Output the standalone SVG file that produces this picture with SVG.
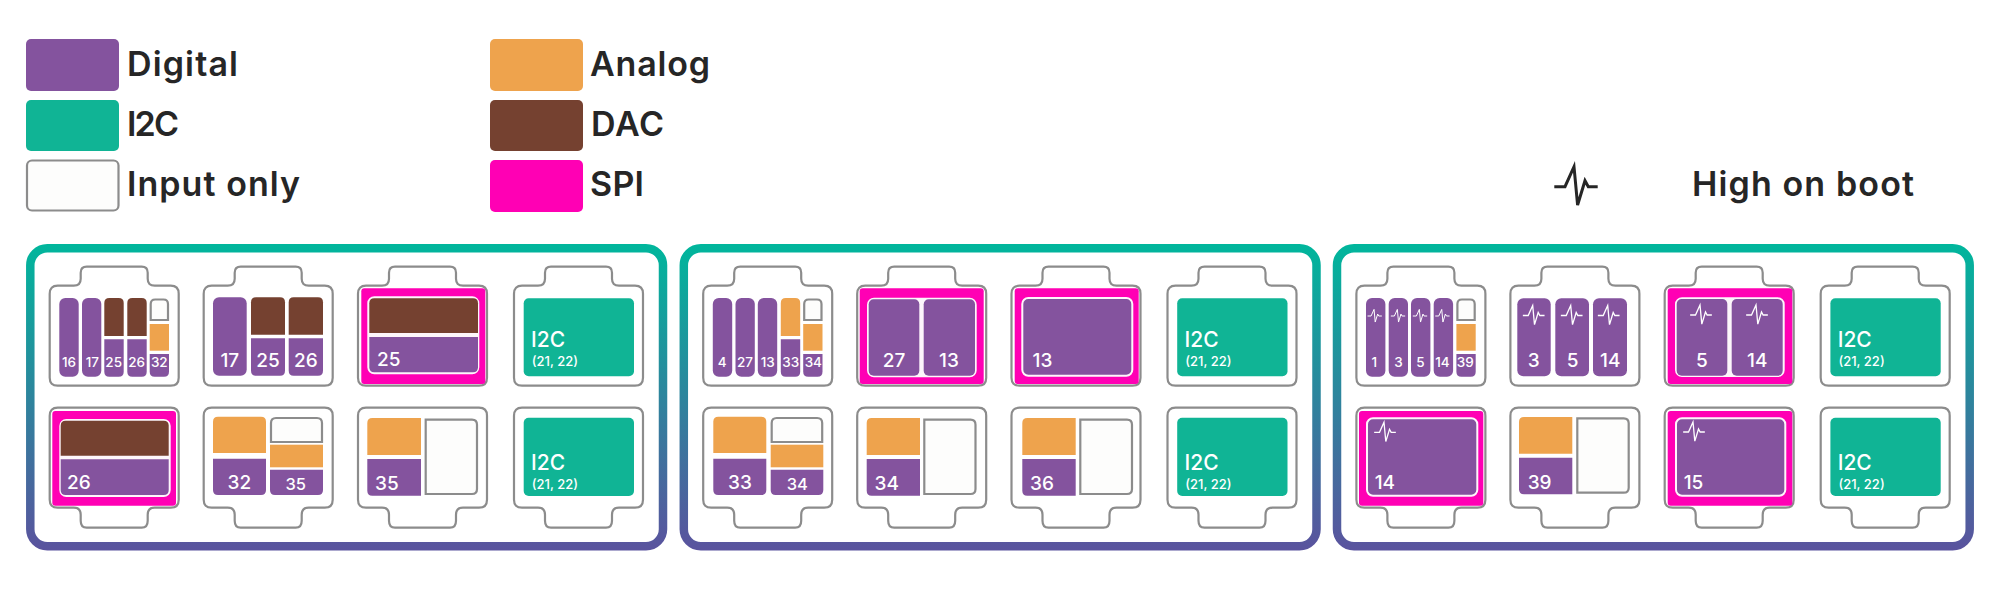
<svg xmlns="http://www.w3.org/2000/svg" width="2000" height="589" viewBox="0 0 2000 589">
<style>
text{font-family:Inter,"Liberation Sans",sans-serif}
.l{font-size:34px;font-weight:600;fill:#262626}
.n{font-weight:500;fill:#fff;text-anchor:middle}
.a{font-weight:500;fill:#fff}
.s{font-size:13.5px}.m{font-size:16.5px}.g{font-size:19px}
.i{font-size:21px}.j{font-size:13px}
.P{fill:#84539e}.T{fill:#10b495}.O{fill:#eea34d}.B{fill:#754130}.M{fill:#ff00b4}
.W{fill:#fdfdfc;stroke:#8c8c8c;stroke-width:2.2}
.H{fill:#fdf6fb;stroke:#fdf6fb;stroke-width:2}
.o{fill:#fff;stroke:#8c8c8c;stroke-width:2.2}
.panel{fill:#fff;stroke:url(#grad);stroke-width:8.5}
.pw{fill:none;stroke:#fff;stroke-width:2.6;stroke-linejoin:miter}
.ps{fill:none;stroke:#fff;stroke-width:3;stroke-linejoin:miter}
.pk{fill:none;stroke:#262626;stroke-width:3;stroke-linejoin:miter}
</style>
<defs>
<linearGradient id="grad" gradientUnits="userSpaceOnUse" x1="0" y1="244" x2="0" y2="550"><stop offset="0" stop-color="#00b69c"/><stop offset="1" stop-color="#5a539e"/></linearGradient>
<path id="tileT" d="M8 0H24Q31 0 31-7V-13Q31-19 37-19H92Q98-19 98-13V-7Q98 0 105 0H121Q129 0 129 8V92Q129 100 121 100H8Q0 100 0 92V8Q0 0 8 0Z"/>
<path id="tileB" d="M8 0H121Q129 0 129 8V92Q129 100 121 100H105Q98 100 98 107V113Q98 120 92 120H37Q31 120 31 113V107Q31 100 24 100H8Q0 100 0 92V8Q0 0 8 0Z"/>
<path id="pulse" d="M-21.7 0H-11L-2-20L1.6 18.3L9-6L12.3 0H21.7"/>
<g id="small"><path class="W" d="M150.700 320V304q0-4.500 4.500-4.500H163.500q4.500 0 4.500 4.500V320Z"/><rect class="O" x="149.700" y="324" width="19.300" height="26.700"/><path class="P" d="M149.700 354H169V371.700q0 5-5 5H154.700q-5 0-5-5Z"/></g>
</defs>

<g id="legend">
<g id="legend-digital"><rect class="P" x="26" y="39" width="93" height="52" rx="5"/><text class="l" x="127" y="76" textLength="111">Digital</text></g>
<g id="legend-i2c"><rect class="T" x="26" y="100" width="93" height="51" rx="5"/><text class="l" x="127" y="136" textLength="52">I2C</text></g>
<g id="legend-input"><rect class="W" x="27" y="160.500" width="91.500" height="50" rx="5"/><text class="l" x="127" y="196" textLength="173">Input only</text></g>
<g id="legend-analog"><rect class="O" x="490" y="39" width="93" height="52" rx="5"/><text class="l" x="590" y="76" textLength="120">Analog</text></g>
<g id="legend-dac"><rect class="B" x="490" y="100" width="93" height="51" rx="5"/><text class="l" x="591" y="136" textLength="73">DAC</text></g>
<g id="legend-spi"><rect class="M" x="490" y="160" width="93" height="52" rx="5"/><text class="l" x="590" y="196" textLength="54">SPI</text></g>
<g id="legend-boot"><use href="#pulse" class="pk" transform="translate(1576 186.700)"/><text class="l" x="1692" y="196" textLength="222">High on boot</text></g>
</g>

<g id="panel-1">
<rect class="panel" x="30.300" y="248.200" width="632.700" height="298" rx="17"/>
<g id="p1-r1-c1"><use href="#tileT" class="o" x="49.700" y="285.700"/>
<rect class="P" x="59.300" y="298" width="19.400" height="78.700" rx="6"/><rect class="P" x="82" y="298" width="19.300" height="78.700" rx="6"/>
<path class="B" d="M104.300 336V303q0-5 5-5H118.700q5 0 5 5V336Z"/><path class="P" d="M104.300 339.300H123.700V371.700q0 5-5 5H109.300q-5 0-5-5Z"/>
<path class="B" d="M127.300 336V303q0-5 5-5H141.700q5 0 5 5V336Z"/><path class="P" d="M127.300 339.300H146.700V371.700q0 5-5 5H132.300q-5 0-5-5Z"/>
<use href="#small"/>
<text class="n s" x="69" y="366.700">16</text><text class="n s" x="92.300" y="366.700">17</text><text class="n s" x="113.700" y="366.700">25</text><text class="n s" x="136.700" y="366.700">26</text><text class="n s" x="159.300" y="366.700">32</text></g>
<g id="p1-r1-c2"><use href="#tileT" class="o" x="203.700" y="285.700"/>
<rect class="P" x="213" y="297.300" width="33.700" height="78.400" rx="6"/>
<path class="B" d="M251 334.700V302.300q0-5 5-5H280q5 0 5 5V334.700Z"/><path class="P" d="M251 338.300H285V370.700q0 5-5 5H256q-5 0-5-5Z"/>
<path class="B" d="M288.700 334.700V302.300q0-5 5-5H318q5 0 5 5V334.700Z"/><path class="P" d="M288.700 338.300H323V370.700q0 5-5 5H293.700q-5 0-5-5Z"/>
<text class="n g" x="229.800" y="366.700">17</text><text class="n g" x="268" y="366.700">25</text><text class="n g" x="305.800" y="366.700">26</text></g>
<g id="p1-r1-c3"><use href="#tileT" class="o" x="358" y="285.700"/><rect class="M" x="361.300" y="288.300" width="124" height="95.700" rx="3"/>
<rect class="H" x="368.300" y="297.300" width="110" height="76" rx="6"/>
<path class="B" d="M369.300 333V303.300q0-5 5-5H473q5 0 5 5V333Z"/><path class="P" d="M369.300 337H478V367.300q0 5-5 5H374.300q-5 0-5-5Z"/>
<text class="a g" x="377" y="365.700">25</text></g>
<g id="p1-r1-c4"><use href="#tileT" class="o" x="514" y="285.700"/><rect class="T" x="523.700" y="298.300" width="110.300" height="78" rx="5"/><text class="a i" x="531" y="347.300">I2C</text><text class="a j" x="531.700" y="366">(21, 22)</text></g>
<g id="p1-r2-c1"><use href="#tileB" class="o" x="49.700" y="407.700"/><rect class="M" x="52.300" y="411" width="123.700" height="94.700" rx="3"/>
<rect class="H" x="60.300" y="420" width="109.400" height="76" rx="6"/>
<path class="B" d="M60.700 455.700V425.700q0-5 5-5H163.700q5 0 5 5V455.700Z"/><path class="P" d="M60.700 459.300H168.700V490q0 5-5 5H65.700q-5 0-5-5Z"/>
<text class="a g" x="67" y="489">26</text></g>
<g id="p1-r2-c2"><use href="#tileB" class="o" x="203.700" y="407.700"/>
<path class="O" d="M213 453V421.700q0-5 5-5H261q5 0 5 5V453Z"/><path class="P" d="M213 458.700H266V490q0 5-5 5H218q-5 0-5-5Z"/>
<path class="W" d="M271 442V423q0-5 5-5H317q5 0 5 5V442Z"/><rect class="O" x="270" y="444.700" width="53" height="22.600"/><path class="P" d="M270 469.700H323V490q0 5-5 5H275q-5 0-5-5Z"/>
<text class="n g" x="239.300" y="489">32</text><text class="n m" x="295.700" y="490">35</text></g>
<g id="p1-r2-c3"><use href="#tileB" class="o" x="358" y="407.700"/>
<path class="O" d="M367.300 455V423q0-5 5-5H421V455Z"/><path class="P" d="M367.300 459H421V495.700H372.300q-5 0-5-5Z"/>
<path class="W" d="M425.700 419.700H472q5 0 5 5V489q0 5-5 5H425.700Z"/>
<text class="a g" x="375" y="489.700">35</text></g>
<g id="p1-r2-c4"><use href="#tileB" class="o" x="514" y="407.700"/><rect class="T" x="523.700" y="417.700" width="110.300" height="78.300" rx="5"/><text class="a i" x="531" y="469.700">I2C</text><text class="a j" x="531.700" y="488.700">(21, 22)</text></g>
</g>

<g id="panel-2" transform="translate(653.500 0)">
<rect class="panel" x="30.300" y="248.200" width="632.700" height="298" rx="17"/>
<g id="p2-r1-c1"><use href="#tileT" class="o" x="49.700" y="285.700"/>
<rect class="P" x="59.300" y="298" width="19.400" height="78.700" rx="6"/><rect class="P" x="82" y="298" width="19.300" height="78.700" rx="6"/><rect class="P" x="104.300" y="298" width="19.400" height="78.700" rx="6"/>
<path class="O" d="M127.300 336V303q0-5 5-5H141.700q5 0 5 5V336Z"/><path class="P" d="M127.300 339.300H146.700V371.700q0 5-5 5H132.300q-5 0-5-5Z"/>
<use href="#small"/>
<text class="n s" x="68.800" y="366.700">4</text><text class="n s" x="91.500" y="366.700">27</text><text class="n s" x="114.200" y="366.700">13</text><text class="n s" x="137.200" y="366.700">33</text><text class="n s" x="159.800" y="366.700">34</text></g>
<g id="p2-r1-c2"><use href="#tileT" class="o" x="203.700" y="285.700"/><rect class="M" x="206.200" y="288.300" width="124" height="95.700" rx="3"/>
<rect class="H" x="214.500" y="298.700" width="107.700" height="77.600" rx="6"/>
<rect class="P" x="215.200" y="299.300" width="50.600" height="76.400" rx="5"/><rect class="P" x="270.200" y="299.300" width="51.300" height="76.400" rx="5"/>
<text class="n g" x="240.500" y="367">27</text><text class="n g" x="295.500" y="367">13</text></g>
<g id="p2-r1-c3"><use href="#tileT" class="o" x="358" y="285.700"/><rect class="M" x="361.200" y="288.300" width="124" height="95.700" rx="3"/>
<rect class="P" x="368.800" y="298" width="110" height="77.700" rx="6" stroke="#fdf6fb" stroke-width="2"/>
<text class="a g" x="379" y="367">13</text></g>
<g id="p2-r1-c4"><use href="#tileT" class="o" x="514" y="285.700"/><rect class="T" x="523.700" y="298.300" width="110.300" height="78" rx="5"/><text class="a i" x="531" y="347.300">I2C</text><text class="a j" x="531.700" y="366">(21, 22)</text></g>
<g id="p2-r2-c1"><use href="#tileB" class="o" x="49.700" y="407.700"/>
<path class="O" d="M59.800 453V421.700q0-5 5-5H107.800q5 0 5 5V453Z"/><path class="P" d="M59.800 458.700H112.800V490q0 5-5 5H64.800q-5 0-5-5Z"/>
<path class="W" d="M118.200 442V423q0-5 5-5H163.700q5 0 5 5V442Z"/><rect class="O" x="117.200" y="444.700" width="52.600" height="22.600"/><path class="P" d="M117.200 469.700H169.800V490q0 5-5 5H122.200q-5 0-5-5Z"/>
<text class="n g" x="86.500" y="489">33</text><text class="n m" x="143.800" y="490">34</text></g>
<g id="p2-r2-c2"><use href="#tileB" class="o" x="203.700" y="407.700"/>
<path class="O" d="M213.200 455V423q0-5 5-5H266.500V455Z"/><path class="P" d="M213.200 459H266.500V495.700H218.200q-5 0-5-5Z"/>
<path class="W" d="M270.800 419.700H317q5 0 5 5V489q0 5-5 5H270.800Z"/>
<text class="a g" x="221" y="489.700">34</text></g>
<g id="p2-r2-c3"><use href="#tileB" class="o" x="358" y="407.700"/>
<path class="O" d="M368.800 455V423q0-5 5-5H422.200V455Z"/><path class="P" d="M368.800 459H422.200V495.700H373.800q-5 0-5-5Z"/>
<path class="W" d="M426.800 419.700H473.500q5 0 5 5V489q0 5-5 5H426.800Z"/>
<text class="a g" x="376.500" y="489.700">36</text></g>
<g id="p2-r2-c4"><use href="#tileB" class="o" x="514" y="407.700"/><rect class="T" x="523.700" y="417.700" width="110.300" height="78.300" rx="5"/><text class="a i" x="531" y="469.700">I2C</text><text class="a j" x="531.700" y="488.700">(21, 22)</text></g>
</g>

<g id="panel-3" transform="translate(1306.700 0)">
<rect class="panel" x="30.300" y="248.200" width="632.700" height="298" rx="17"/>
<g id="p3-r1-c1"><use href="#tileT" class="o" x="49.700" y="285.700"/>
<rect class="P" x="59.300" y="298" width="19.400" height="78.700" rx="6"/><rect class="P" x="82" y="298" width="19.300" height="78.700" rx="6"/><rect class="P" x="104.300" y="298" width="19.400" height="78.700" rx="6"/><rect class="P" x="127" y="298" width="19.400" height="78.700" rx="6"/>
<use href="#small"/>
<use href="#pulse" class="ps" transform="translate(68 316) scale(.33)"/><use href="#pulse" class="ps" transform="translate(91.300 316) scale(.33)"/><use href="#pulse" class="ps" transform="translate(113.300 316) scale(.33)"/><use href="#pulse" class="ps" transform="translate(135.700 316) scale(.33)"/>
<text class="n s" x="67.700" y="366.700">1</text><text class="n s" x="91.700" y="366.700">3</text><text class="n s" x="113.700" y="366.700">5</text><text class="n s" x="135.700" y="366.700">14</text><text class="n s" x="158.500" y="366.700">39</text></g>
<g id="p3-r1-c2"><use href="#tileT" class="o" x="203.700" y="285.700"/>
<rect class="P" x="210.600" y="298.300" width="33.400" height="78" rx="6"/><rect class="P" x="248.600" y="298.300" width="33.700" height="78" rx="6"/><rect class="P" x="286.300" y="298.300" width="34" height="78" rx="6"/>
<use href="#pulse" class="pw" transform="translate(227 315.500) scale(.5)"/><use href="#pulse" class="pw" transform="translate(265 315.500) scale(.5)"/><use href="#pulse" class="pw" transform="translate(302 315.500) scale(.5)"/>
<text class="n g" x="227" y="366.700">3</text><text class="n g" x="266" y="366.700">5</text><text class="n g" x="303.600" y="366.700">14</text></g>
<g id="p3-r1-c3"><use href="#tileT" class="o" x="358" y="285.700"/><rect class="M" x="361" y="288.300" width="124.600" height="95.700" rx="3"/>
<rect class="H" x="369.300" y="298.300" width="107.700" height="77.700" rx="6"/>
<rect class="P" x="370" y="299" width="50.600" height="76.700" rx="5"/><rect class="P" x="425" y="299" width="51" height="76.700" rx="5"/>
<use href="#pulse" class="pw" transform="translate(394.300 315) scale(.5)"/><use href="#pulse" class="pw" transform="translate(450.300 315) scale(.5)"/>
<text class="n g" x="395.300" y="367">5</text><text class="n g" x="450.600" y="367">14</text></g>
<g id="p3-r1-c4"><use href="#tileT" class="o" x="514" y="285.700"/><rect class="T" x="523.700" y="298.300" width="110.300" height="78" rx="5"/><text class="a i" x="531" y="347.300">I2C</text><text class="a j" x="531.700" y="366">(21, 22)</text></g>
<g id="p3-r2-c1"><use href="#tileB" class="o" x="49.700" y="407.700"/><rect class="M" x="52.300" y="411" width="124.300" height="94.700" rx="3"/>
<rect class="P" x="60.300" y="418.300" width="110.300" height="77.400" rx="6" stroke="#fdf6fb" stroke-width="2"/>
<use href="#pulse" class="pw" transform="translate(78.300 432.300) scale(.5)"/>
<text class="a g" x="68" y="489.300">14</text></g>
<g id="p3-r2-c2"><use href="#tileB" class="o" x="203.700" y="407.700"/>
<path class="O" d="M212.300 453.700V422q0-5 5-5H265.600V453.700Z"/><path class="P" d="M212.300 457.700H265.600V494.300H217.300q-5 0-5-5Z"/>
<path class="W" d="M270.600 418.300H317q5 0 5 5V487.700q0 5-5 5H270.600Z"/>
<text class="a g" x="221" y="489">39</text></g>
<g id="p3-r2-c3"><use href="#tileB" class="o" x="358" y="407.700"/><rect class="M" x="361" y="411" width="124.600" height="94.700" rx="3"/>
<rect class="P" x="369.300" y="418.300" width="109.300" height="77.400" rx="6" stroke="#fdf6fb" stroke-width="2"/>
<use href="#pulse" class="pw" transform="translate(387.300 432) scale(.5)"/>
<text class="a g" x="377" y="489">15</text></g>
<g id="p3-r2-c4"><use href="#tileB" class="o" x="514" y="407.700"/><rect class="T" x="523.700" y="417.700" width="110.300" height="78.300" rx="5"/><text class="a i" x="531" y="469.700">I2C</text><text class="a j" x="531.700" y="488.700">(21, 22)</text></g>
</g>
</svg>
